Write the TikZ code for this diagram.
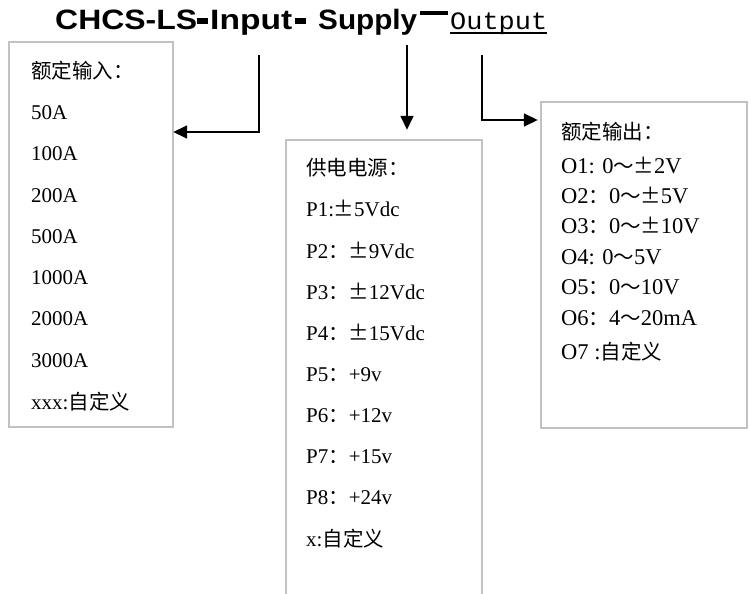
\documentclass[tikz,border=0pt]{standalone}
\usepackage{fontspec}
\usepackage{graphicx}
\setmainfont{Liberation Serif}
\newfontfamily\zhfont{Noto Sans CJK SC}
\newfontfamily\ttlfont{Liberation Sans}
\newfontfamily\outfont{Liberation Mono}
\usetikzlibrary{arrows.meta}
\newcommand{\zh}[1]{{\zhfont\fontsize{20.5}{24}\selectfont #1}}
\newcommand{\pmw}{\makebox[20pt]{\zhfont\fontsize{20.5}{24}\selectfont ±}}
\begin{document}
\begin{tikzpicture}[x=1pt,y=-1pt,
  box/.style={draw=black!24, line width=1.6pt},
  conn/.style={line width=1.6pt, -{Triangle[length=14pt,width=13pt]}},
  ttl/.style={anchor=base west, inner sep=0pt, font=\ttlfont\bfseries\fontsize{28}{32}\selectfont},
  dashbar/.style={fill=black},
  lineL/.style={anchor=mid west, inner sep=0pt, font=\fontsize{21}{24}\selectfont},
  lineR/.style={anchor=mid west, inner sep=0pt, font=\fontsize{22.5}{26}\selectfont}]
\useasboundingbox (0,0) rectangle (750,594);
\begin{scope}
\clip (0,0) rectangle (750,594);
\draw[box] (9,42) rectangle (173,427);
\draw[box] (286,140) rectangle (482,620);
\draw[box] (541,102) rectangle (747,428);
\end{scope}
\node[inner sep=0pt, minimum width=164pt, minimum height=385pt] (inbox) at (91,234.5) {};
\node[inner sep=0pt, minimum width=196pt, minimum height=0pt] (supbox) at (384,140) {};
\node[inner sep=0pt, minimum width=206pt, minimum height=326pt] (outbox) at (644,265) {};
% title
\node[ttl] (t1) at (55,30) {\resizebox{142pt}{\height}{CHCS-LS}};
\fill[dashbar] (197,18) rectangle (208,24);
\node[ttl] (t2) at (210,30) {\resizebox{82pt}{\height}{Input}};
\fill[dashbar] (295,18) rectangle (306,24);
\node[ttl] (t3) at (318,30) {\resizebox{99pt}{\height}{Supply}};
\fill[dashbar] (420,11) rectangle (448,15);
\node[anchor=base west, inner sep=0pt, font=\outfont\fontsize{25}{30}\selectfont] (t4) at (450,30) {\resizebox{97pt}{\height}{Output}};
\draw[line width=1.4pt] (t4.base west) ++(0,3) -- ++(97,0);
\coordinate (c1) at (259,55);
\coordinate (c2) at (407,45);
\coordinate (c3) at (482,55);
\draw[conn] (c1) |- (inbox.east |- 0,132);
\draw[conn] (c2) -- ([yshift=10pt]supbox.north -| c2);
\draw[conn] (c3) |- ([xshift=-3pt]outbox.west |- 0,120);
% left box
\node[lineL] (l0) at (31,76) {\zh{额定输入：}};
\node[lineL] (l1) at (31,117) {50A};
\node[lineL] (l2) at (31,158) {100A};
\node[lineL] (l3) at (31,200) {200A};
\node[lineL] (l4) at (31,241) {500A};
\node[lineL] (l5) at (31,282) {1000A};
\node[lineL] (l6) at (31,323) {2000A};
\node[lineL] (l7) at (31,365) {3000A};
\node[lineL] (l8) at (31,407) {xxx:\zh{自定义}};
% middle box
\node[lineL] (m0) at (306,173) {\zh{供电电源：}};
\node[lineL] (m1) at (306,214) {P1:\pmw5Vdc};
\node[lineL] (m2) at (306,256) {P2\zh{：}\pmw9Vdc};
\node[lineL] (m3) at (306,297) {P3\zh{：}\pmw12Vdc};
\node[lineL] (m4) at (306,338) {P4\zh{：}\pmw15Vdc};
\node[lineL] (m5) at (306,379) {P5\zh{：}+9v};
\node[lineL] (m6) at (306,420) {P6\zh{：}+12v};
\node[lineL] (m7) at (306,461) {P7\zh{：}+15v};
\node[lineL] (m8) at (306,502) {P8\zh{：}+24v};
\node[lineL] (m9) at (306,544) {x:\zh{自定义}};
% right box
\node[lineR] (r0) at (561,137) {\zh{额定输出：}};
\node[lineR] (r1) at (561,171) {O1: 0\zh{～}\pmw2V};
\node[lineR] (r2) at (561,201) {O2\zh{：}0\zh{～}\pmw5V};
\node[lineR] (r3) at (561,231) {O3\zh{：}0\zh{～}\pmw10V};
\node[lineR] (r4) at (561,262) {O4: 0\zh{～}5V};
\node[lineR] (r5) at (561,292) {O5\zh{：}0\zh{～}10V};
\node[lineR] (r6) at (561,323) {O6\zh{：}4\zh{～}20mA};
\node[lineR] (r7) at (561,357) {O7 :\zh{自定义}};
\end{tikzpicture}
\end{document}
